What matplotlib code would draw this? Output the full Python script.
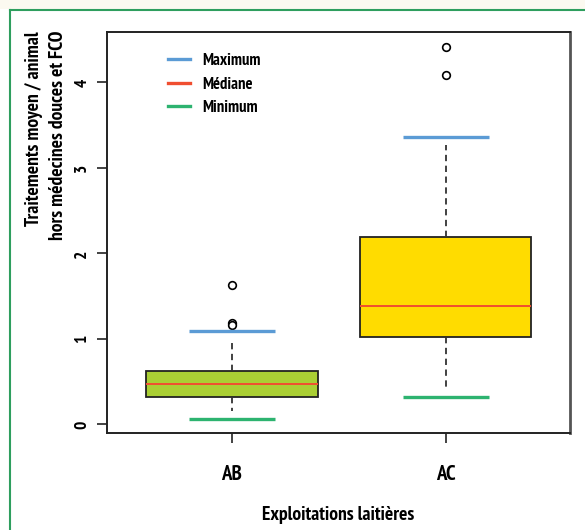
import matplotlib
matplotlib.use("Agg")
import matplotlib.pyplot as plt
from matplotlib.lines import Line2D

# ---- data ----
categories = ["AB", "AC"]
q1 = [0.325, 1.027]
medians = [0.47, 1.39]
q3 = [0.626, 2.19]
whisk_low = [0.16, 0.42]
whisk_high = [1.00, 3.27]
outliers = [[1.63, 1.19, 1.16], [4.415, 4.09]]
maximum = [1.097, 3.36]
minimum = [0.068, 0.325]
box_colors = ["#AACF34", "#FFDC00"]
yticks = [0, 1, 2, 3, 4]

FONT = ["PT Sans Narrow", "DejaVu Sans"]
plt.rcParams["font.family"] = FONT

fig = plt.figure(figsize=(5.85, 5.3), dpi=100)
fig.patch.set_facecolor("white")
ax = fig.add_axes([107/585, 97/530, 463/585, 401/530])

pos = [1, 2]
stats = []
for i in range(2):
    stats.append(dict(med=medians[i], q1=q1[i], q3=q3[i],
                      whislo=whisk_low[i], whishi=whisk_high[i],
                      fliers=outliers[i], label=categories[i]))
bp = ax.bxp(stats, positions=pos, widths=0.8, patch_artist=True,
            showcaps=False,
            whiskerprops=dict(color="#333333", linestyle=(0, (3.5, 2.5)), linewidth=1.3),
            boxprops=dict(edgecolor="#222222", linewidth=1.3),
            medianprops=dict(color="#F04E30", linewidth=1.4),
            flierprops=dict(marker="o", markerfacecolor="white",
                            markeredgecolor="black", markersize=5.5, markeredgewidth=1.2))
for patch, c in zip(bp["boxes"], box_colors):
    patch.set_facecolor(c)

ax.hlines(maximum, [p - 0.2 for p in pos], [p + 0.2 for p in pos],
          colors="#5B9BD5", linewidth=2.4, zorder=3)
ax.hlines(minimum, [p - 0.2 for p in pos], [p + 0.2 for p in pos],
          colors="#2DB370", linewidth=2.4, zorder=3)

ax.set_xlim(0.416, 2.58)
ax.set_ylim(-0.1, 4.59)
ax.set_yticks(yticks)
ax.set_yticklabels([str(t) for t in yticks], rotation=90, va="center",
                   fontweight="bold", fontsize=12.5)
ax.set_xticks(pos)
ax.set_xticklabels(categories, fontweight="bold", fontsize=15)
ax.tick_params(axis="y", length=7, width=1.2, pad=5, colors="#222222")
ax.tick_params(axis="x", length=7, width=1.2, pad=16, colors="#222222")
ax.tick_params(labelcolor="black")
for s in ax.spines.values():
    s.set_color("#222222")
    s.set_linewidth(1.4)
ax.spines["right"].set_color("#555555")
ax.spines["right"].set_linewidth(2)

ax.set_xlabel("Exploitations laitières", fontweight="bold", fontsize=14, labelpad=16)
fig.text(46/585, 1 - 31/530, "Traitements moyen / animal\nhors médecines douces et FCO",
         rotation=90, ha="center", va="top", multialignment="right",
         fontweight="bold", fontsize=14, linespacing=1.4)

handles = [Line2D([], [], color="#5B9BD5", lw=2.4),
           Line2D([], [], color="#F04E30", lw=2.4),
           Line2D([], [], color="#2DB370", lw=2.4)]
leg = ax.legend(handles, ["Maximum", "Médiane", "Minimum"], loc="upper left",
                bbox_to_anchor=(0.10, 0.985), frameon=False,
                prop=dict(family=FONT, weight="bold", size=12),
                handlelength=1.3, handletextpad=0.75, labelspacing=0.45)

# frame of the page: cream band and green lines
fig.patches.append(plt.Rectangle((0, 521/530), 1, 9/530, transform=fig.transFigure,
                                 facecolor="#FBF9F0", edgecolor="none"))
fig.add_artist(Line2D([10/585, 1], [520.5/530, 520.5/530], transform=fig.transFigure,
                      color="#2E9E5E", lw=1.5))
fig.add_artist(Line2D([10/585, 10/585], [0, 520.5/530], transform=fig.transFigure,
                      color="#2E9E5E", lw=1.5))

fig.savefig("out.png", dpi=100)
